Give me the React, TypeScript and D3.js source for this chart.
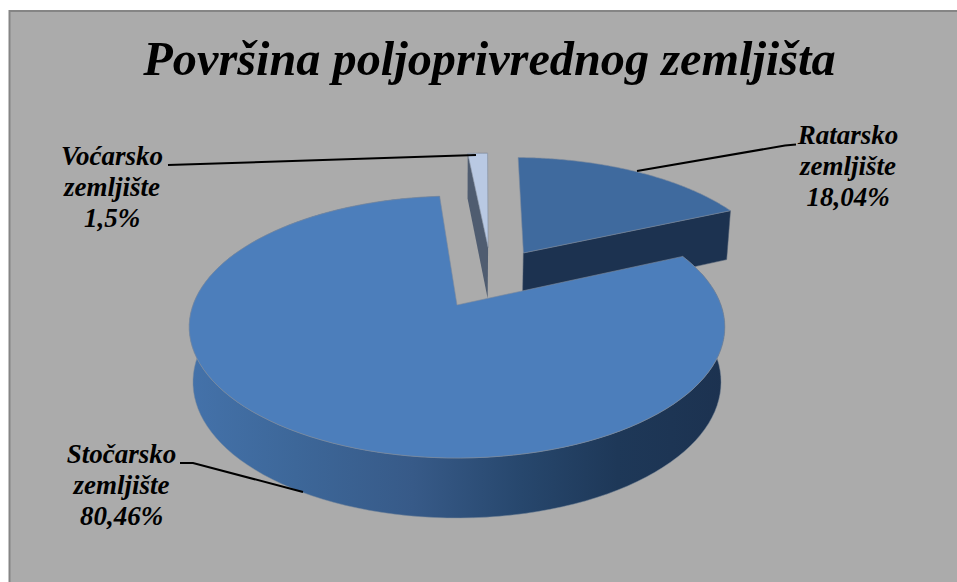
import { useEffect, useRef } from "react";
import * as d3 from "d3";

const categories = ["Ratarsko zemljište", "Stočarsko zemljište", "Voćarsko zemljište"];
const values = [18.04, 80.46, 1.5];
const valueLabels = ["18,04%", "80,46%", "1,5%"];
const title = "Površina poljoprivrednog zemljišta";

const width = 957;
const height = 582;

// 3D projection of the pie plane, fitted on the picture
const cx = 457;
const cy = 305;
const rx = 264;
const ry = 127.3;
const persp = 0.168;

// how far each slice is pulled out of the centre (unit disc coords)
const explode = [
  { u: 0.27, v: -0.4386 },
  { u: 0, v: 0 },
  { u: 0.1275, v: -0.49 },
];

const topColor = ["#3f6a9e", "#4c7ebb", "#b9c9e3"];
const outlineColor = "#7f8c9c";

type Pt = [number, number];

const depth = (v: number) => 54 + 6 * v;

function project(u: number, v: number, lower = false): Pt {
  const w = 1 - persp * v;
  const x = cx + (rx * u) / w;
  const y = cy + (ry * v) / w;
  return lower ? [cx + (x - cx) * 0.986, y + depth(v)] : [x, y];
}

// point on the rim of a slice, angle clockwise from north
function rim(angle: number, i: number, r = 1, lower = false): Pt {
  const e = explode[i];
  return project(e.u + r * Math.sin(angle), e.v - r * Math.cos(angle), lower);
}

export default function App() {
  const svgRef = useRef<SVGSVGElement | null>(null);

  useEffect(() => {
    if (!svgRef.current) return;
    const svg = d3.select(svgRef.current);
    svg.selectAll("*").remove();

    const defs = svg.append("defs");
    const grad = defs
      .append("linearGradient")
      .attr("id", "sideMain")
      .attr("gradientUnits", "userSpaceOnUse")
      .attr("x1", 188)
      .attr("x2", 725)
      .attr("y1", 0)
      .attr("y2", 0);
    [
      [0, "#4472aa"],
      [0.2, "#3d6799"],
      [0.42, "#375a88"],
      [0.62, "#27476d"],
      [0.8, "#1e3858"],
      [1, "#1c3250"],
    ].forEach(([o, c]) => grad.append("stop").attr("offset", o).attr("stop-color", c));

    svg
      .append("rect")
      .attr("x", 9.5)
      .attr("y", 11)
      .attr("width", 955)
      .attr("height", 580)
      .attr("fill", "#ababab")
      .attr("stroke", "#858585")
      .attr("stroke-width", 2);

    const pie = d3
      .pie<number>()
      .sort(null)
      .startAngle((1 * Math.PI) / 180)
      .endAngle((361 * Math.PI) / 180);
    const arcs = pie(values);
    const line = d3.line<Pt>();

    const arcPoints = (i: number, lower = false) =>
      d3
        .range(0, 121)
        .map((k) =>
          rim(arcs[i].startAngle + ((arcs[i].endAngle - arcs[i].startAngle) * k) / 120, i, 1, lower),
        );

    const drawSlice = (i: number) => {
      const a = arcs[i];
      const apex = project(explode[i].u, explode[i].v);
      const apexLow = project(explode[i].u, explode[i].v, true);

      if (i === 0) {
        // front wall of the top slice
        svg
          .append("path")
          .attr("d", line([apex, rim(a.endAngle, i), rim(a.endAngle, i, 1, true), apexLow])! + "Z")
          .attr("fill", "#1c3250")
          .attr("stroke", "#4a5a70")
          .attr("stroke-width", 0.5);
      }
      if (i === 1) {
        svg
          .append("path")
          .attr("d", line([...arcPoints(i), ...arcPoints(i, true).reverse()])! + "Z")
          .attr("fill", "url(#sideMain)")
          .attr("stroke", outlineColor)
          .attr("stroke-width", 0.5);
      }
      if (i === 2) {
        // left wall of the thin slice
        svg
          .append("path")
          .attr("d", line([apex, rim(a.startAngle, i), rim(a.startAngle, i, 1, true), apexLow])! + "Z")
          .attr("fill", "#4f5c70");
      }

      svg
        .append("path")
        .attr("d", line([apex, ...arcPoints(i)])! + "Z")
        .attr("fill", topColor[i])
        .attr("stroke", outlineColor)
        .attr("stroke-width", 0.6);
    };

    // back to front
    drawSlice(2);
    drawSlice(0);
    drawSlice(1);

    const leaders: Pt[][] = [
      [[637, 171], [785, 145.5], [796, 144.5]],
      [[180, 463], [193, 463], [303, 492]],
      [[168, 165], [476, 155]],
    ];
    leaders.forEach((pts) =>
      svg
        .append("path")
        .attr("d", line(pts)!)
        .attr("fill", "none")
        .attr("stroke", "#000")
        .attr("stroke-width", 2),
    );

    const font = "'Liberation Serif', serif";
    svg
      .append("text")
      .attr("x", 489.5)
      .attr("y", 75)
      .attr("text-anchor", "middle")
      .attr("font-family", font)
      .attr("font-size", 48.3)
      .attr("font-weight", "bold")
      .attr("font-style", "italic")
      .text(title);

    const labelPos: Pt[] = [
      [848, 144],
      [121.5, 463],
      [112, 165],
    ];
    categories.forEach((c, i) => {
      const t = svg
        .append("text")
        .attr("text-anchor", "middle")
        .attr("font-family", font)
        .attr("font-size", 27)
        .attr("font-weight", "bold")
        .attr("font-style", "italic");
      [...c.split(" "), valueLabels[i]].forEach((s, j) =>
        t
          .append("tspan")
          .attr("x", labelPos[i][0])
          .attr("y", labelPos[i][1] + j * 31)
          .text(s),
      );
    });
  }, []);

  return (
    <svg
      ref={svgRef}
      width={width}
      height={height}
      style={{ position: "absolute", left: 0, top: 0 }}
    ></svg>
  );
}
